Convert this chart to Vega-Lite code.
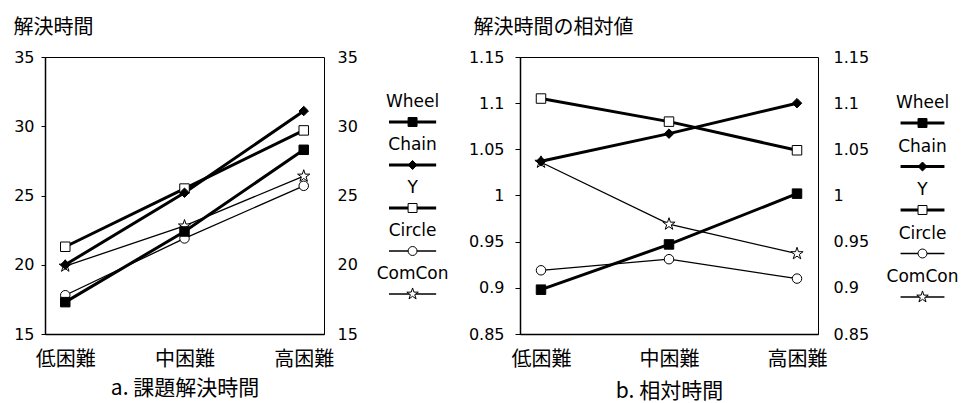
{
  "$schema": "https://vega.github.io/schema/vega-lite/v6.json",
  "padding": {"left": 12, "top": 16, "right": 0, "bottom": 0},
  "background": "white",
  "config": {
    "font": "DejaVu Sans",
    "view": {"stroke": "black", "strokeWidth": 1},
    "axis": {"labelColor": "black", "titleColor": "black", "domainColor": "black", "tickColor": "black", "domainWidth": 1.5, "grid": false, "labelFont": "DejaVu Sans", "labelFontSize": 16}
  },
  "datasets": {
    "a": [
      {"series": "Circle", "level": "低困難", "v": 17.8},
      {"series": "Circle", "level": "中困難", "v": 21.9},
      {"series": "Circle", "level": "高困難", "v": 25.7},
      {"series": "ComCon", "level": "低困難", "v": 19.9},
      {"series": "ComCon", "level": "中困難", "v": 22.8},
      {"series": "ComCon", "level": "高困難", "v": 26.4},
      {"series": "Y", "level": "低困難", "v": 21.3},
      {"series": "Y", "level": "中困難", "v": 25.5},
      {"series": "Y", "level": "高困難", "v": 29.7},
      {"series": "Chain", "level": "低困難", "v": 20.0},
      {"series": "Chain", "level": "中困難", "v": 25.2},
      {"series": "Chain", "level": "高困難", "v": 31.1},
      {"series": "Wheel", "level": "低困難", "v": 17.3},
      {"series": "Wheel", "level": "中困難", "v": 22.4},
      {"series": "Wheel", "level": "高困難", "v": 28.3}
    ],
    "b": [
      {"series": "Circle", "level": "低困難", "v": 0.919},
      {"series": "Circle", "level": "中困難", "v": 0.931},
      {"series": "Circle", "level": "高困難", "v": 0.910},
      {"series": "ComCon", "level": "低困難", "v": 1.036},
      {"series": "ComCon", "level": "中困難", "v": 0.969},
      {"series": "ComCon", "level": "高困難", "v": 0.937},
      {"series": "Y", "level": "低困難", "v": 1.105},
      {"series": "Y", "level": "中困難", "v": 1.080},
      {"series": "Y", "level": "高困難", "v": 1.049},
      {"series": "Chain", "level": "低困難", "v": 1.037},
      {"series": "Chain", "level": "中困難", "v": 1.067},
      {"series": "Chain", "level": "高困難", "v": 1.100},
      {"series": "Wheel", "level": "低困難", "v": 0.898},
      {"series": "Wheel", "level": "中困難", "v": 0.947},
      {"series": "Wheel", "level": "高困難", "v": 1.002}
    ],
    "legend": [
      {"series": "Wheel"},
      {"series": "Chain"},
      {"series": "Y"},
      {"series": "Circle"},
      {"series": "ComCon"}
    ]
  },
  "bounds": "flush",
  "spacing": 65,
  "hconcat": [
    {
      "width": 279,
      "height": 277,
      "data": {"name": "a"},
      "encoding": {
        "x": {"field": "level", "type": "nominal", "sort": ["低困難", "中困難", "高困難"], "scale": {"type": "point", "padding": 0.17},
          "axis": {"labelAngle": 0, "ticks": false, "tickSize": 0, "labelFont": "Noto Sans CJK JP", "labelFontSize": 20, "labelPadding": 15, "title": "a. 課題解決時間", "titleFont": "Noto Sans CJK JP", "titleFontSize": 21, "titleFontWeight": "normal", "titlePadding": 8}}
      },
      "layer": [
        {
          "transform": [{"filter": {"field": "series", "oneOf": ["Circle", "ComCon"]}}],
          "mark": {"type": "line", "color": "black", "strokeWidth": 1.3},
          "encoding": {
            "y": {"field": "v", "type": "quantitative", "scale": {"domain": [15, 35], "nice": false, "zero": false},
              "axis": {"orient": "left", "values": [15, 20, 25, 30, 35], "tickSize": 4, "labelPadding": 7, "title": "解決時間", "titleAngle": 0, "titleAlign": "left", "titleBaseline": "middle", "titleX": -32, "titleY": -30, "titleFont": "Noto Sans CJK JP", "titleFontSize": 20, "titleFontWeight": "normal"}},
            "detail": {"field": "series", "type": "nominal"}
          }
        },
        {
          "transform": [{"filter": {"field": "series", "oneOf": ["Wheel", "Chain", "Y"]}}],
          "mark": {"type": "line", "color": "black", "strokeWidth": 3},
          "encoding": {
            "y": {"field": "v", "type": "quantitative", "axis": null},
            "detail": {"field": "series", "type": "nominal"}
          }
        },
        {
          "mark": {"type": "point", "filled": true, "stroke": "black", "strokeWidth": 1, "size": 90, "opacity": 1},
          "encoding": {
            "y": {"field": "v", "type": "quantitative",
              "axis": {"orient": "right", "values": [15, 20, 25, 30, 35], "tickSize": 0, "labelPadding": 13, "title": null, "domain": false}},
            "shape": {"field": "series", "type": "nominal", "legend": null, "scale": {"domain": ["Wheel", "Chain", "Y", "Circle", "ComCon"], "range": ["square", "diamond", "square", "circle", "M0,-1.35L0.303,-0.417L1.284,-0.417L0.49,0.159L0.794,1.092L0,0.516L-0.794,1.092L-0.49,0.159L-1.284,-0.417L-0.303,-0.417Z"]}},
            "fill": {"field": "series", "type": "nominal", "legend": null, "scale": {"domain": ["Wheel", "Chain", "Y", "Circle", "ComCon"], "range": ["black", "black", "white", "white", "white"]}}
          }
        }
      ],
      "resolve": {"axis": {"y": "independent"}}
    },
    {
      "width": 66,
      "height": 277,
      "view": {"stroke": null},
      "data": {"name": "legend"},
      "encoding": {
        "y": {"field": "series", "type": "nominal", "sort": ["Wheel", "Chain", "Y", "Circle", "ComCon"], "scale": {"type": "point", "range": [65, 237], "padding": 0}, "axis": null}
      },
      "layer": [
        {
          "transform": [{"filter": {"field": "series", "oneOf": ["Wheel", "Chain", "Y"]}}],
          "mark": {"type": "rule", "color": "black", "strokeWidth": 3},
          "encoding": {"x": {"datum": 0, "type": "quantitative", "scale": {"domain": [0, 1.347]}, "axis": null}, "x2": {"datum": 1}}
        },
        {
          "transform": [{"filter": {"field": "series", "oneOf": ["Circle", "ComCon"]}}],
          "mark": {"type": "rule", "color": "black", "strokeWidth": 1.3},
          "encoding": {"x": {"datum": 0, "type": "quantitative"}, "x2": {"datum": 1}}
        },
        {
          "mark": {"type": "point", "filled": true, "stroke": "black", "strokeWidth": 1, "size": 80, "opacity": 1},
          "encoding": {
            "x": {"datum": 0.5, "type": "quantitative"},
            "shape": {"field": "series", "type": "nominal", "legend": null, "scale": {"domain": ["Wheel", "Chain", "Y", "Circle", "ComCon"], "range": ["square", "diamond", "square", "circle", "M0,-1.35L0.303,-0.417L1.284,-0.417L0.49,0.159L0.794,1.092L0,0.516L-0.794,1.092L-0.49,0.159L-1.284,-0.417L-0.303,-0.417Z"]}},
            "fill": {"field": "series", "type": "nominal", "legend": null, "scale": {"domain": ["Wheel", "Chain", "Y", "Circle", "ComCon"], "range": ["black", "black", "white", "white", "white"]}}
          }
        },
        {
          "mark": {"type": "text", "font": "DejaVu Sans", "fontSize": 17, "color": "black", "baseline": "alphabetic", "align": "center", "dy": -15},
          "encoding": {"x": {"datum": 0.5, "type": "quantitative"}, "text": {"field": "series", "type": "nominal"}}
        }
      ]
    },
    {
      "width": 298,
      "height": 277,
      "data": {"name": "b"},
      "encoding": {
        "x": {"field": "level", "type": "nominal", "sort": ["低困難", "中困難", "高困難"], "scale": {"type": "point", "padding": 0.164},
          "axis": {"labelAngle": 0, "ticks": false, "tickSize": 0, "labelFont": "Noto Sans CJK JP", "labelFontSize": 20, "labelPadding": 15, "title": "b. 相対時間", "titleFont": "Noto Sans CJK JP", "titleFontSize": 21, "titleFontWeight": "normal", "titlePadding": 11}}
      },
      "layer": [
        {
          "transform": [{"filter": {"field": "series", "oneOf": ["Circle", "ComCon"]}}],
          "mark": {"type": "line", "color": "black", "strokeWidth": 1.3},
          "encoding": {
            "y": {"field": "v", "type": "quantitative", "scale": {"domain": [0.85, 1.15], "nice": false, "zero": false},
              "axis": {"orient": "left", "values": [0.85, 0.9, 0.95, 1, 1.05, 1.1, 1.15], "format": "~g", "tickSize": 5, "labelPadding": 11, "title": "解決時間の相対値", "titleAngle": 0, "titleAlign": "left", "titleBaseline": "middle", "titleX": -47, "titleY": -30, "titleFont": "Noto Sans CJK JP", "titleFontSize": 20, "titleFontWeight": "normal"}},
            "detail": {"field": "series", "type": "nominal"}
          }
        },
        {
          "transform": [{"filter": {"field": "series", "oneOf": ["Wheel", "Chain", "Y"]}}],
          "mark": {"type": "line", "color": "black", "strokeWidth": 3},
          "encoding": {
            "y": {"field": "v", "type": "quantitative", "axis": null},
            "detail": {"field": "series", "type": "nominal"}
          }
        },
        {
          "mark": {"type": "point", "filled": true, "stroke": "black", "strokeWidth": 1, "size": 90, "opacity": 1},
          "encoding": {
            "y": {"field": "v", "type": "quantitative",
              "axis": {"orient": "right", "values": [0.85, 0.9, 0.95, 1, 1.05, 1.1, 1.15], "format": "~g", "tickSize": 0, "labelPadding": 15, "title": null, "domain": false}},
            "shape": {"field": "series", "type": "nominal", "legend": null, "scale": {"domain": ["Wheel", "Chain", "Y", "Circle", "ComCon"], "range": ["square", "diamond", "square", "circle", "M0,-1.35L0.303,-0.417L1.284,-0.417L0.49,0.159L0.794,1.092L0,0.516L-0.794,1.092L-0.49,0.159L-1.284,-0.417L-0.303,-0.417Z"]}},
            "fill": {"field": "series", "type": "nominal", "legend": null, "scale": {"domain": ["Wheel", "Chain", "Y", "Circle", "ComCon"], "range": ["black", "black", "white", "white", "white"]}}
          }
        }
      ],
      "resolve": {"axis": {"y": "independent"}}
    },
    {
      "width": 79,
      "height": 277,
      "view": {"stroke": null},
      "data": {"name": "legend"},
      "encoding": {
        "y": {"field": "series", "type": "nominal", "sort": ["Wheel", "Chain", "Y", "Circle", "ComCon"], "scale": {"type": "point", "range": [66, 240], "padding": 0}, "axis": null}
      },
      "layer": [
        {
          "transform": [{"filter": {"field": "series", "oneOf": ["Wheel", "Chain", "Y"]}}],
          "mark": {"type": "rule", "color": "black", "strokeWidth": 3},
          "encoding": {"x": {"datum": 0, "type": "quantitative", "scale": {"domain": [-0.3, 1.28]}, "axis": null}, "x2": {"datum": 1}}
        },
        {
          "transform": [{"filter": {"field": "series", "oneOf": ["Circle", "ComCon"]}}],
          "mark": {"type": "rule", "color": "black", "strokeWidth": 1.3},
          "encoding": {"x": {"datum": 0, "type": "quantitative"}, "x2": {"datum": 1}}
        },
        {
          "mark": {"type": "point", "filled": true, "stroke": "black", "strokeWidth": 1, "size": 80, "opacity": 1},
          "encoding": {
            "x": {"datum": 0.5, "type": "quantitative"},
            "shape": {"field": "series", "type": "nominal", "legend": null, "scale": {"domain": ["Wheel", "Chain", "Y", "Circle", "ComCon"], "range": ["square", "diamond", "square", "circle", "M0,-1.35L0.303,-0.417L1.284,-0.417L0.49,0.159L0.794,1.092L0,0.516L-0.794,1.092L-0.49,0.159L-1.284,-0.417L-0.303,-0.417Z"]}},
            "fill": {"field": "series", "type": "nominal", "legend": null, "scale": {"domain": ["Wheel", "Chain", "Y", "Circle", "ComCon"], "range": ["black", "black", "white", "white", "white"]}}
          }
        },
        {
          "mark": {"type": "text", "font": "DejaVu Sans", "fontSize": 17, "color": "black", "baseline": "alphabetic", "align": "center", "dy": -15},
          "encoding": {"x": {"datum": 0.5, "type": "quantitative"}, "text": {"field": "series", "type": "nominal"}}
        }
      ]
    }
  ]
}
